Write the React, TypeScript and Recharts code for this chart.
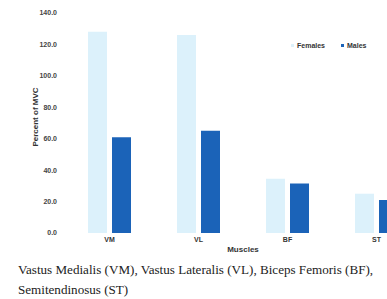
import React from "react";
import { BarChart, Bar, XAxis, YAxis, Legend, Label } from "recharts";

const muscles = ["VM", "VL", "BF", "ST"];
const females = [128, 126, 34.5, 25];
const males = [61, 65, 31.5, 21];
const yTicks = [0, 20, 40, 60, 80, 100, 120, 140];

const data = muscles.map((m, i) => ({ muscle: m, Females: females[i], Males: males[i] }));

const FEMALE = "#dcf1fb";
const MALE = "#1b63b8";
const AXIS_FONT = "'Liberation Sans', Arial, sans-serif";

const renderLegend = (props: any) => {
  const payload = props.payload || [];
  return (
    <div style={{ display: "flex", alignItems: "center", fontFamily: AXIS_FONT, fontSize: 7, fontWeight: 700, color: "#333" }}>
      {payload.map((p: any, i: number) => (
        <div key={i} style={{ display: "flex", alignItems: "center", marginRight: 16 }}>
          <span style={{ display: "inline-block", width: 3, height: 3, background: p.color, marginRight: 3 }} />
          <span>{p.value}</span>
        </div>
      ))}
    </div>
  );
};

export default function App() {
  return (
    <div
      style={{
        position: "fixed",
        left: 0,
        top: 0,
        width: 387,
        height: 299,
        overflow: "hidden",
        background: "#fff",
      }}
    >
      <div style={{ position: "absolute", left: 8, top: 8 }}>
        <BarChart
          width={430}
          height={254}
          data={data}
          margin={{ top: 5, right: 17, bottom: 0, left: 0 }}
          barCategoryGap="25%"
          barGap={5}
        >
          <YAxis
            width={57}
            domain={[0, 140]}
            ticks={yTicks}
            tickFormatter={(v: number) => v.toFixed(1)}
            axisLine={false}
            tickLine={false}
            tickSize={6}
            tickMargin={2}
            tick={{ fontSize: 7, fontWeight: 700, fill: "#444", fontFamily: AXIS_FONT }}
            interval={0}
          >
            <Label
              content={(p: any) => {
                const vb = p.viewBox;
                const cx = 27;
                const cy = vb.y + vb.height / 2 - 6;
                return (
                  <text
                    x={cx}
                    y={cy}
                    transform={`rotate(-90 ${cx} ${cy})`}
                    textAnchor="middle"
                    dominantBaseline="central"
                    fontSize={8}
                    fontWeight={700}
                    fill="#333"
                    fontFamily={AXIS_FONT}
                  >
                    Percent of MVC
                  </text>
                );
              }}
            />
          </YAxis>
          <XAxis
            dataKey="muscle"
            axisLine={false}
            tickLine={false}
            tickSize={2}
            tickMargin={2}
            height={22}
            tick={{ fontSize: 7, fontWeight: 700, fill: "#333", fontFamily: AXIS_FONT }}
            interval={0}
          >
            <Label
              content={(p: any) => {
                const vb = p.viewBox;
                return (
                  <text
                    x={235}
                    y={vb.y + 16}
                    textAnchor="middle"
                    dominantBaseline="central"
                    fontSize={8}
                    fontWeight={700}
                    fill="#333"
                    fontFamily={AXIS_FONT}
                  >
                    Muscles
                  </text>
                );
              }}
            />
          </XAxis>
          <Legend
            content={renderLegend}
            wrapperStyle={{ position: "absolute", top: 34, left: 283, width: "auto" }}
          />
          <Bar dataKey="Females" fill={FEMALE} barSize={19} isAnimationActive={false} />
          <Bar dataKey="Males" fill={MALE} barSize={19} isAnimationActive={false} />
        </BarChart>
      </div>
      <div
        style={{
          position: "absolute",
          left: 18,
          top: 260,
          fontFamily: "'Liberation Serif', 'Times New Roman', serif",
          fontSize: 13.1,
          lineHeight: "19.5px",
          color: "#222",
          whiteSpace: "nowrap",
        }}
      >
        Vastus Medialis (VM), Vastus Lateralis (VL), Biceps Femoris (BF),
        <br />
        Semitendinosus (ST)
      </div>
    </div>
  );
}
